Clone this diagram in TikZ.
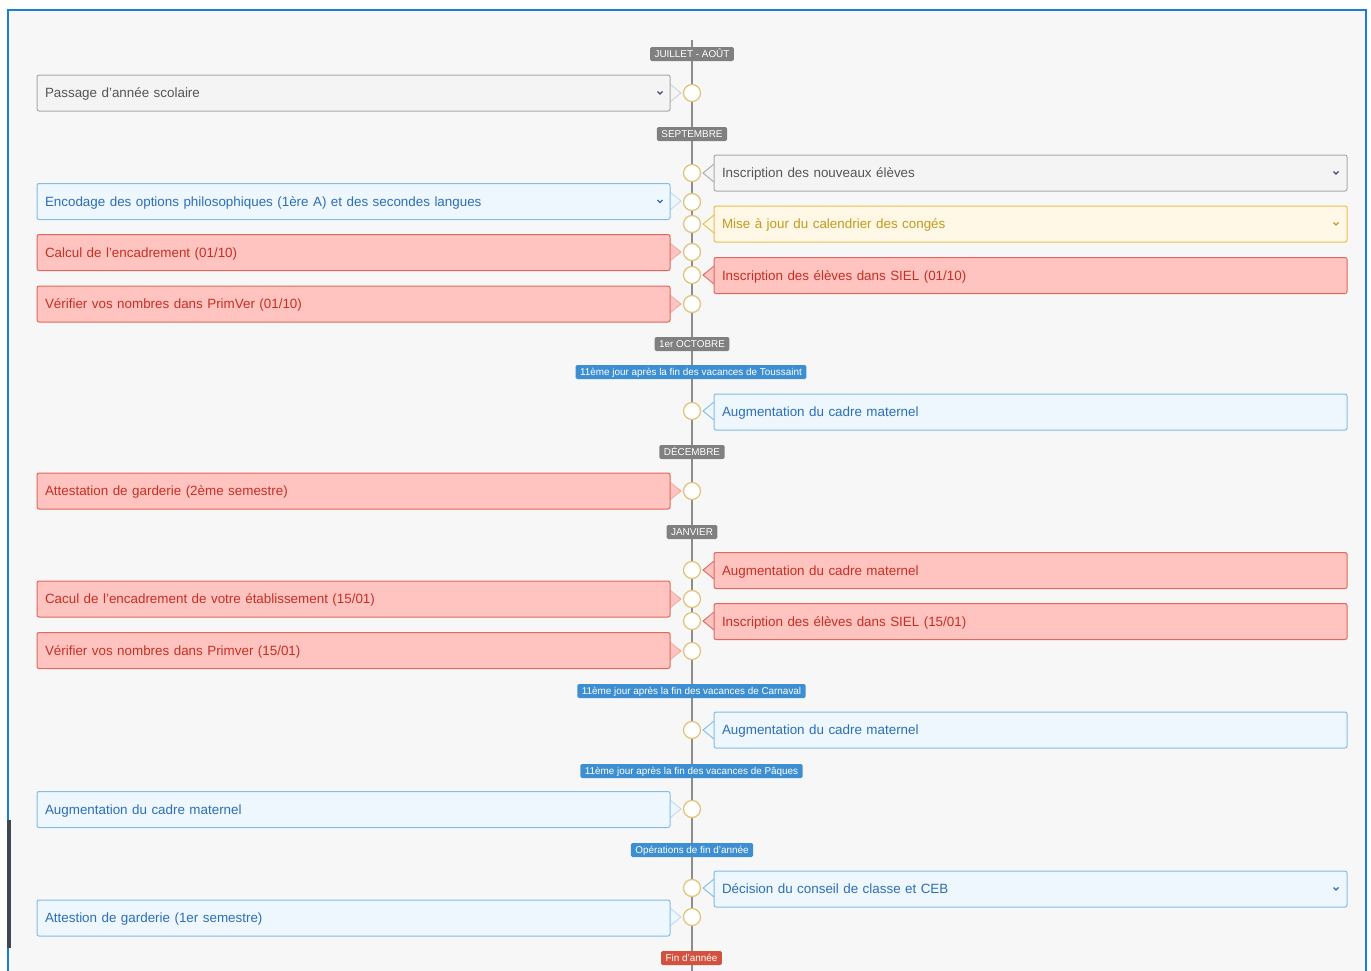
\documentclass[tikz,border=0pt]{standalone}
\usepackage{fontspec}
\setmainfont{Liberation Sans}
\definecolor{pagebg}{HTML}{F7F7F7}
\definecolor{frameblue}{HTML}{1A7FD4}
\definecolor{darkbar}{HTML}{3D4752}
\definecolor{tline}{HTML}{8C8C8C}
\definecolor{gold}{HTML}{E2C57A}
\definecolor{gfill}{HTML}{F4F4F4}
\definecolor{gdraw}{HTML}{AAAAAA}
\definecolor{gtext}{HTML}{555555}
\definecolor{bfill}{HTML}{EEF6FE}
\definecolor{bdraw}{HTML}{82BCE8}
\definecolor{btext}{HTML}{2C6FB7}
\definecolor{yfill}{HTML}{FFF8E6}
\definecolor{ydraw}{HTML}{E6C04A}
\definecolor{ytext}{HTML}{C49A1C}
\definecolor{rfill}{HTML}{FFC4BF}
\definecolor{rdraw}{HTML}{E0675E}
\definecolor{rtext}{HTML}{C62F25}
\definecolor{lgrey}{HTML}{808080}
\definecolor{lblue}{HTML}{3D8FD1}
\definecolor{lred}{HTML}{D3513F}
\begin{document}
\begin{tikzpicture}[x=1pt,y=-1pt,
  box/.style={rounded corners=2pt, minimum width=633pt, minimum height=36pt,
    inner sep=0pt, line width=1pt, text width=617pt, align=left,
    text height=9.6pt, text depth=0pt,
    font=\fontsize{13.4}{16}\selectfont},
  gbox/.style={box, draw=gdraw, fill=gfill, text=gtext},
  bbox/.style={box, draw=bdraw, fill=bfill, text=btext},
  ybox/.style={box, draw=ydraw, fill=yfill, text=ytext},
  rbox/.style={box, draw=rdraw, fill=rfill, text=rtext},
  dot/.style={circle, draw=gold, fill=white, line width=1.3pt, minimum size=17pt, inner sep=0pt},
  tag/.style={rounded corners=1.5pt, text=white, inner xsep=4.5pt, inner ysep=0pt,
    minimum height=14pt, text height=7pt, text depth=0pt, font=\fontsize{9.9}{11}\selectfont},
  gtag/.style={tag, fill=lgrey},
  btag/.style={tag, fill=lblue},
  rtag/.style={tag, fill=lred},
  chev/.style={line width=1.2pt},
]
\useasboundingbox (0,0) rectangle (1371,970);
\fill[white] (0,0) rectangle (1371,970);
\draw[line width=2pt, draw=frameblue, fill=pagebg] (8,10) rectangle (1366,990);
\fill[darkbar] (7,820) rectangle (11,948);

% timeline
\coordinate (tltop) at (692,40);
\coordinate (tlbot) at (692,975);
\draw[tline, line width=1.4pt] (tltop) -- (tlbot);

% pointers (drawn first, boxes on top)
\def\lx{670}\def\rx{714}
\newcommand{\lptr}[3]{% y, fill, draw
  \fill[#2] (\lx-1,#1-9) -- (\lx+11,#1) -- (\lx-1,#1+9) -- cycle;
  \draw[#3, opacity=0.45, line width=0.9pt] (\lx,#1-9) -- (\lx+11,#1) -- (\lx,#1+9);}
\newcommand{\rptr}[3]{%
  \fill[#2] (\rx+1,#1-9) -- (\rx-11,#1) -- (\rx+1,#1+9) -- cycle;
  \draw[#3, line width=0.9pt] (\rx,#1-9) -- (\rx-11,#1) -- (\rx,#1+9);}
\lptr{93}{gfill}{gdraw}
\rptr{173}{gfill}{gdraw}
\lptr{201}{bfill}{bdraw}
\rptr{224}{yfill}{ydraw}
\lptr{252}{rfill}{rdraw}
\rptr{275}{rfill}{rdraw}
\lptr{304}{rfill}{rdraw}
\rptr{411}{bfill}{bdraw}
\lptr{491}{rfill}{rdraw}
\rptr{570}{rfill}{rdraw}
\lptr{599}{rfill}{rdraw}
\rptr{621}{rfill}{rdraw}
\lptr{651}{rfill}{rdraw}
\rptr{730}{bfill}{bdraw}
\lptr{809}{bfill}{bdraw}
\rptr{888}{bfill}{bdraw}
\lptr{917}{bfill}{bdraw}

% tags
\node[gtag] (t1) at (692,54) {JUILLET - AOÛT};
\node[gtag] (t2) at (692,134) {SEPTEMBRE};
\node[gtag] (t3) at (692,344) {1er OCTOBRE};
\node[btag] (t4) at (691,372) {11ème jour après la fin des vacances de Toussaint};
\node[gtag] (t5) at (692,452) {DÉCEMBRE};
\node[gtag] (t6) at (692,532) {JANVIER};
\node[btag] (t7) at (691.5,691) {11ème jour après la fin des vacances de Carnaval};
\node[btag] (t8) at (691.5,771) {11ème jour après la fin des vacances de Pâques};
\node[btag] (t9) at (692,850) {Opérations de fin d'année};
\node[rtag] (t10) at (691.5,958) {Fin d'année};

% boxes
\node[gbox] (b1) at (353.5,93) {Passage d'année scolaire};
\node[gbox] (b2) at (1030.5,173) {Inscription des nouveaux élèves};
\node[bbox] (b3) at (353.5,201.5) {Encodage des options philosophiques (1ère A) et des secondes langues};
\node[ybox] (b4) at (1030.5,224) {Mise à jour du calendrier des congés};
\node[rbox] (b5) at (353.5,252.5) {Calcul de l'encadrement (01/10)};
\node[rbox] (b6) at (1030.5,275.5) {Inscription des élèves dans SIEL (01/10)};
\node[rbox] (b7) at (353.5,304) {Vérifier vos nombres dans PrimVer (01/10)};
\node[bbox] (b8) at (1030.5,412) {Augmentation du cadre maternel};
\node[rbox] (b9) at (353.5,491) {Attestation de garderie (2ème semestre)};
\node[rbox] (b10) at (1030.5,570.5) {Augmentation du cadre maternel};
\node[rbox] (b11) at (353.5,599) {Cacul de l'encadrement de votre établissement (15/01)};
\node[rbox] (b12) at (1030.5,621.5) {Inscription des élèves dans SIEL (15/01)};
\node[rbox] (b13) at (353.5,650.5) {Vérifier vos nombres dans Primver (15/01)};
\node[bbox] (b14) at (1030.5,730) {Augmentation du cadre maternel};
\node[bbox] (b15) at (353.5,809.5) {Augmentation du cadre maternel};
\node[bbox] (b16) at (1030.5,889) {Décision du conseil de classe et CEB};
\node[bbox] (b17) at (353.5,918) {Attestion de garderie (1er semestre)};

% chevrons
\draw[chev, draw=gtext!80!blue] ([xshift=-13pt,yshift=1.5pt]b1.east) -- ++(2.5,2.5) -- ++(2.5,-2.5);
\draw[chev, draw=gtext!80!blue] ([xshift=-14pt,yshift=1.5pt]b2.east) -- ++(2.5,2.5) -- ++(2.5,-2.5);
\draw[chev, draw=btext] ([xshift=-13pt,yshift=1.5pt]b3.east) -- ++(2.5,2.5) -- ++(2.5,-2.5);
\draw[chev, draw=ytext] ([xshift=-14pt,yshift=1.5pt]b4.east) -- ++(2.5,2.5) -- ++(2.5,-2.5);
\draw[chev, draw=btext] ([xshift=-14pt,yshift=1.5pt]b16.east) -- ++(2.5,2.5) -- ++(2.5,-2.5);

% dots
\node[dot] (d1) at (692,93) {};
\node[dot] (d2) at (692,173) {};
\node[dot] (d3) at (692,202) {};
\node[dot] (d4) at (692,224) {};
\node[dot] (d5) at (692,252) {};
\node[dot] (d6) at (692,275) {};
\node[dot] (d7) at (692,304) {};
\node[dot] (d8) at (692,411) {};
\node[dot] (d9) at (692,491) {};
\node[dot] (d10) at (692,570) {};
\node[dot] (d11) at (692,599) {};
\node[dot] (d12) at (692,621) {};
\node[dot] (d13) at (692,651) {};
\node[dot] (d14) at (692,730) {};
\node[dot] (d15) at (692,809) {};
\node[dot] (d16) at (692,888) {};
\node[dot] (d17) at (692,917) {};
\end{tikzpicture}
\end{document}
